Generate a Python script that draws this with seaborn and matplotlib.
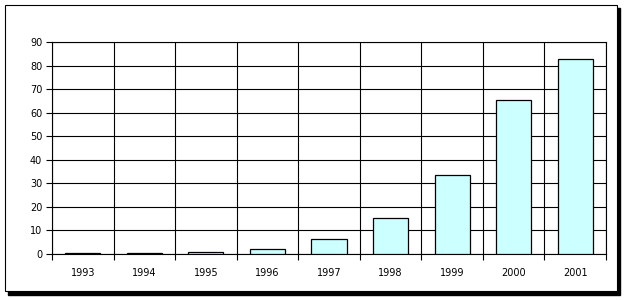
import matplotlib
matplotlib.use("Agg")
import matplotlib.pyplot as plt
import seaborn as sns
import pandas as pd
from matplotlib.patches import Rectangle

years = ["1993", "1994", "1995", "1996", "1997", "1998", "1999", "2000", "2001"]
values = [0.3, 0.3, 0.8, 2.1, 6.2, 15.2, 33.4, 65.2, 82.6]
yticks = [0, 10, 20, 30, 40, 50, 60, 70, 80, 90]

sns.set_theme(style="white")
plt.rcParams['font.family'] = ['DejaVu Sans']

W, H = 625, 300
fig = plt.figure(figsize=(W / 100, H / 100), dpi=100)

# outer frame with shadow
fig.patches.append(Rectangle((8 / W, (H - 295) / H), 612 / W, 287 / H,
                             transform=fig.transFigure, facecolor="black",
                             edgecolor="black", zorder=0))
fig.patches.append(Rectangle((5 / W, (H - 291) / H), 612 / W, 286 / H,
                             transform=fig.transFigure, facecolor="white",
                             edgecolor="black", linewidth=0.8, zorder=1))

ax = fig.add_axes([52 / W, (H - 254) / H, (606 - 52) / W, (254 - 42) / H])
ax.set_zorder(2)
ax.patch.set_alpha(0)

df = pd.DataFrame({"year": years, "value": values})
sns.barplot(data=df, x="year", y="value", ax=ax, color="#CCFFFF",
            saturation=1, width=0.57, edgecolor="black", linewidth=0.9,
            zorder=3)

ax.set_xlim(-0.5, len(years) - 0.5)
ax.set_ylim(0, 90)
ax.set_yticks(yticks)
ax.set_yticklabels([str(t) for t in yticks])
ax.set_xticks(range(len(years)))
ax.set_xticklabels(years)
ax.set_xticks([i + 0.5 for i in range(-1, len(years))], minor=True)

ax.tick_params(axis="x", which="major", length=0, pad=10, labelsize=7, colors="black")
ax.tick_params(axis="x", which="minor", length=4, width=0.8, direction="out", bottom=True, color="black")
ax.tick_params(axis="y", which="major", length=4, width=0.8, direction="out", left=True,
               pad=3, labelsize=7, colors="black")

ax.grid(False)
ax.yaxis.grid(True, which="major", color="black", linewidth=0.8)
ax.xaxis.grid(True, which="minor", color="black", linewidth=0.8)
ax.set_axisbelow(True)
for s in ax.spines.values():
    s.set_visible(True)
    s.set_color("black")
    s.set_linewidth(0.8)

ax.set_xlabel("")
ax.set_ylabel("")

fig.savefig("out.png", dpi=100)
